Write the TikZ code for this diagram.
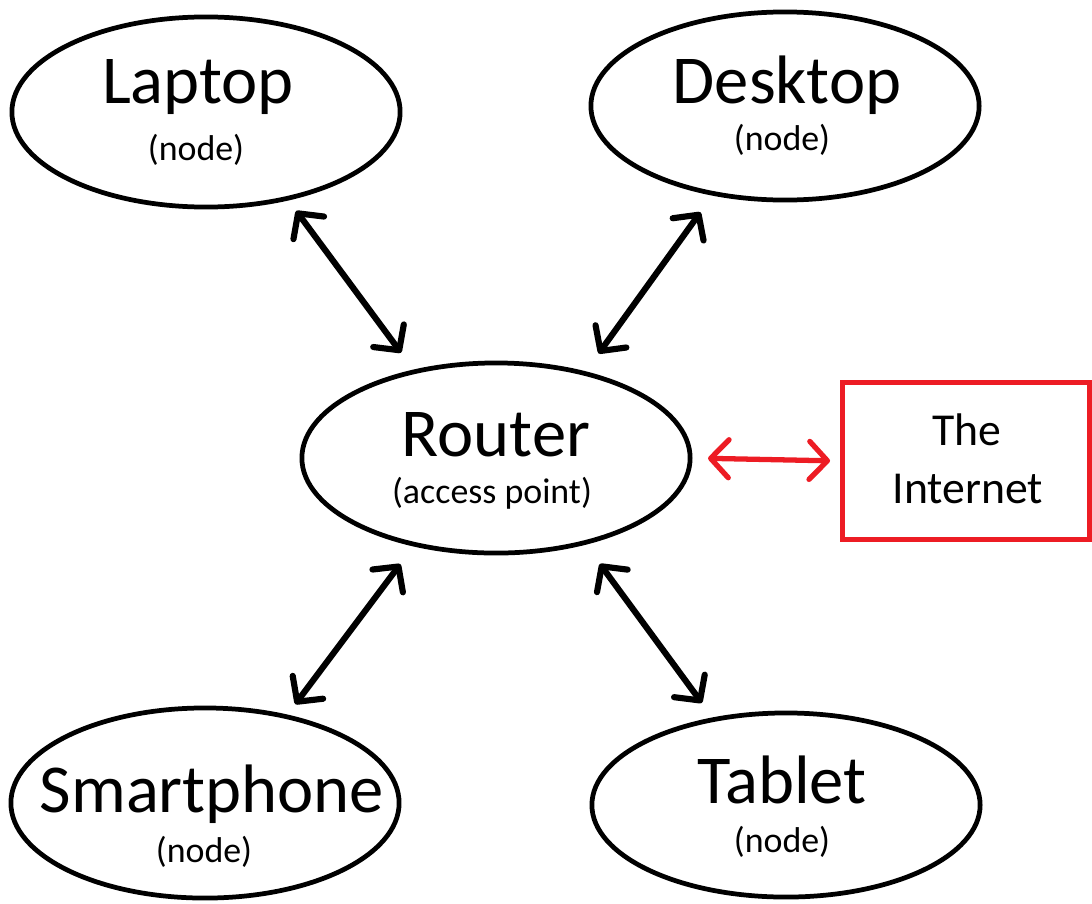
\documentclass[tikz,border=0pt]{standalone}
\usepackage{fontspec}
\setmainfont{Carlito}
\usepackage{tikz}
\usetikzlibrary{shapes.geometric,arrows.meta,positioning}
\definecolor{netred}{RGB}{237,28,36}

\begin{document}
\begin{tikzpicture}[x=0.01cm,y=-0.01cm,
  device/.style={draw,ellipse,line width=1.35pt,inner sep=0pt,minimum width=3.88cm,minimum height=1.9cm},
  big/.style={anchor=base,inner sep=0pt,font=\fontsize{19.5}{23}\selectfont},
  small/.style={anchor=base,inner sep=0pt,font=\fontsize{10.2}{12}\selectfont},
  link/.style={line width=1.75pt,{Straight Barb[length=1.8mm,width=3.8mm,round]}-{Straight Barb[length=1.8mm,width=3.8mm,round]}},
  weblink/.style={link,draw=netred,line width=1.5pt}]
\useasboundingbox (0,0) rectangle (1092,903);

% the five devices
\node[device] (laptop) at (206,112) {};
\node[device,minimum height=1.88cm] (desktop) at (785,106) {};
\node[device] (router) at (496,458) {};
\node[device] (phone) at (205,803) {};
\node[device,minimum height=1.84cm] (tablet) at (786,805) {};

% box for the outside world
\node[draw=netred,line width=1.5pt,minimum width=2.475cm,minimum height=1.57cm,inner sep=0pt] (web) at (966,461) {};

% labels
\node[big] (laptop-t) at (198,103) {Laptop};
\node[small] (laptop-s) at (196,160) {(node)};
\node[big] (desktop-t) at (787,103) {Desktop};
\node[small] (desktop-s) at (782,150) {(node)};
\node[big] (router-t) at (496,456) {Router};
\node[small] (router-s) at (492,503) {(access point)};
\node[big] (phone-t) at (212,812) {Smartphone};
\node[small] (phone-s) at (204,862) {(node)};
\node[big] (tablet-t) at (782,803) {Tablet};
\node[small] (tablet-s) at (782,852) {(node)};
\node[anchor=base,inner sep=0pt,font=\fontsize{13}{16}\selectfont] (web-a) at (967,445) {The};
\node[anchor=base,inner sep=0pt,font=\fontsize{13}{16}\selectfont] (web-b) at (968,503) {Internet};

% links to the router
\draw[link,shorten <=0.13cm,shorten >=0.21cm] (laptop.-47.9) -- (router.133.4);
\draw[link,shorten <=0.205cm,shorten >=0.22cm] (desktop.-129) -- (router.44.8);
\draw[link,shorten <=0.22cm,shorten >=0.13cm] (router.-133) -- (phone.47.2);
\draw[link,shorten <=0.238cm,shorten >=0.18cm] (router.-44.4) -- (tablet.130.2);
\draw[weblink,shorten <=0.155cm,shorten >=0.095cm] (router.east) -- (web.west);
\end{tikzpicture}
\end{document}
